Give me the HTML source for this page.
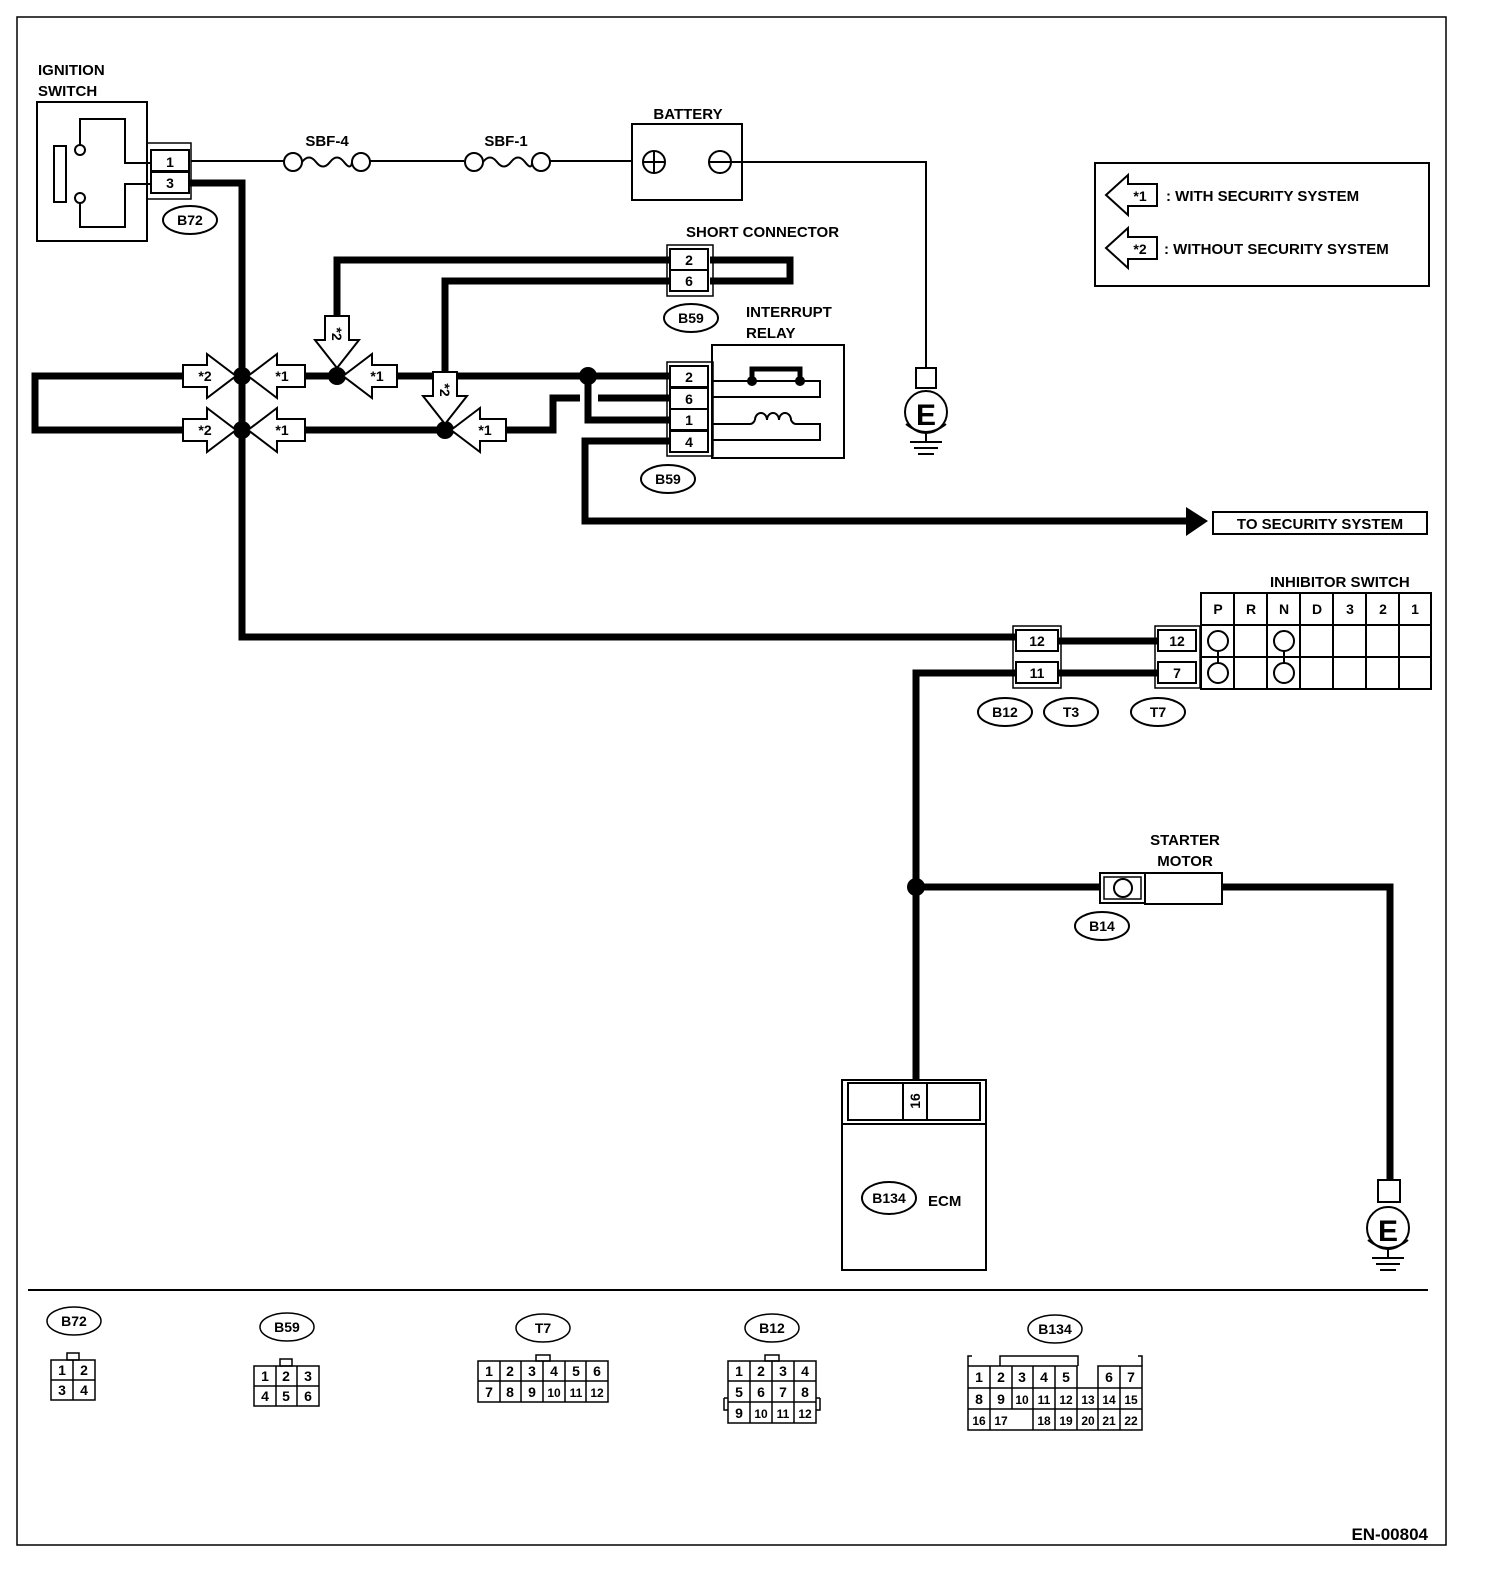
<!DOCTYPE html>
<html><head><meta charset="utf-8"><style>
html,body{margin:0;padding:0;background:#fff;overflow:hidden;width:1504px;height:1586px}
svg{display:block}
text{font-family:"Liberation Sans",Arial,sans-serif;font-weight:bold;fill:#000}
</style></head><body>
<svg width="1504" height="1586" viewBox="0 0 1504 1586" xmlns="http://www.w3.org/2000/svg">
<rect x="17" y="17" width="1429" height="1528" fill="none" stroke="#000" stroke-width="1.5"/>

<!-- Ignition switch -->
<text x="38" y="75" font-size="15">IGNITION</text>
<text x="38" y="96" font-size="15">SWITCH</text>
<rect x="37" y="102" width="110" height="139" fill="none" stroke="#000" stroke-width="2"/>
<rect x="54" y="146" width="12" height="56" fill="none" stroke="#000" stroke-width="2"/>
<path d="M80,150 V119 H125 V163 H150 M150,184 H125 V227 H80 V203" fill="none" stroke="#000" stroke-width="2"/>
<circle cx="80" cy="150" r="5" fill="#fff" stroke="#000" stroke-width="2"/>
<circle cx="80" cy="198" r="5" fill="#fff" stroke="#000" stroke-width="2"/>
<rect x="147" y="143" width="44" height="56" fill="none" stroke="#000" stroke-width="1.5"/>
<rect x="151" y="150" width="38" height="21" fill="#fff" stroke="#000" stroke-width="2"/>
<rect x="151" y="172" width="38" height="21" fill="#fff" stroke="#000" stroke-width="2"/>
<text x="170" y="167" font-size="14" text-anchor="middle">1</text>
<text x="170" y="188" font-size="14" text-anchor="middle">3</text>
<ellipse cx="190" cy="220" rx="27" ry="14" fill="none" stroke="#000" stroke-width="2"/>
<text x="190" y="225" font-size="14" text-anchor="middle">B72</text>

<!-- Fuses and battery line -->
<path d="M191,161 H284 M370,161 H464 M550,161 H632" stroke="#000" stroke-width="2" fill="none"/>
<circle cx="293" cy="162" r="9" fill="#fff" stroke="#000" stroke-width="2"/>
<circle cx="361" cy="162" r="9" fill="#fff" stroke="#000" stroke-width="2"/>
<path d="M302,162 q7,-9 14,0 t14,0 t14,0 t8,0" fill="none" stroke="#000" stroke-width="2"/>
<text x="327" y="146" font-size="15" text-anchor="middle">SBF-4</text>
<circle cx="474" cy="162" r="9" fill="#fff" stroke="#000" stroke-width="2"/>
<circle cx="541" cy="162" r="9" fill="#fff" stroke="#000" stroke-width="2"/>
<path d="M483,162 q7,-9 14,0 t14,0 t14,0 t7,0" fill="none" stroke="#000" stroke-width="2"/>
<text x="506" y="146" font-size="15" text-anchor="middle">SBF-1</text>
<text x="688" y="119" font-size="15" text-anchor="middle">BATTERY</text>
<rect x="632" y="124" width="110" height="76" fill="none" stroke="#000" stroke-width="2"/>
<circle cx="654" cy="162" r="11" fill="none" stroke="#000" stroke-width="2"/>
<path d="M643,162 H665 M654,151 V173" stroke="#000" stroke-width="2"/>
<circle cx="720" cy="162" r="11" fill="none" stroke="#000" stroke-width="2"/>
<path d="M709,162 H742" stroke="#000" stroke-width="2"/>
<path d="M742,162 H926 V368" stroke="#000" stroke-width="2" fill="none"/>
<rect x="916" y="368" width="20" height="20" fill="none" stroke="#000" stroke-width="2"/>
<circle cx="926" cy="412" r="21" fill="none" stroke="#000" stroke-width="2"/>
<text x="926" y="425" font-size="30" text-anchor="middle">E</text>
<path d="M906,424 q20,16 40,0" fill="none" stroke="#000" stroke-width="2"/>
<path d="M926,433 V442 M910,442 H942 M914,448 H938 M918,454 H934" stroke="#000" stroke-width="2"/>

<!-- Legend -->
<rect x="1095" y="163" width="334" height="123" fill="none" stroke="#000" stroke-width="2"/>
<polygon points="1106,195 1128,175 1128,184 1157,184 1157,206 1128,206 1128,215" fill="#fff" stroke="#000" stroke-width="2"/>
<text x="1140" y="201" font-size="14" text-anchor="middle">*1</text>
<text x="1166" y="201" font-size="15">: WITH SECURITY SYSTEM</text>
<polygon points="1106,248 1128,228 1128,237 1157,237 1157,259 1128,259 1128,268" fill="#fff" stroke="#000" stroke-width="2"/>
<text x="1140" y="254" font-size="14" text-anchor="middle">*2</text>
<text x="1164" y="254" font-size="15">: WITHOUT SECURITY SYSTEM</text>

<!-- Thick wires -->
<g stroke="#000" stroke-width="7" fill="none">
<path d="M190,183 H242 V637 H1016"/>
<path d="M183,376 H35 V430 H183"/>
<path d="M305,376 H350 M397,376 H670"/>
<path d="M305,430 H458 M506,430 H553 V398 H580"/>
<path d="M337,316 V260 H670"/>
<path d="M445,372 V281 H670"/>
<path d="M710,260 H790 V281 H710"/>
<path d="M588,376 V420 H670"/>
<path d="M598,398 H670"/>
<path d="M670,441 H585 V521 H1190"/>
<path d="M1058,641 H1158"/>
<path d="M1158,673 H1058 M1016,673 H916 V1080"/>
<path d="M916,887 H1100"/>
<path d="M1222,887 H1390 V1180"/>
</g>
<polygon points="1186,507 1208,521 1186,536" fill="#000"/>
<circle cx="242" cy="376" r="9" fill="#000"/>
<circle cx="242" cy="430" r="9" fill="#000"/>
<circle cx="337" cy="376" r="9" fill="#000"/>
<circle cx="445" cy="430" r="9" fill="#000"/>
<circle cx="588" cy="376" r="9" fill="#000"/>
<circle cx="916" cy="887" r="9" fill="#000"/>

<!-- arrows -->
<g fill="#fff" stroke="#000" stroke-width="2">
<polygon points="183,365 207,365 207,354 236,376 207,398 207,387 183,387"/>
<polygon points="183,419 207,419 207,408 236,430 207,452 207,441 183,441"/>
<polygon points="248,376 277,354 277,365 305,365 305,387 277,387 277,398"/>
<polygon points="248,430 277,408 277,419 305,419 305,441 277,441 277,452"/>
<polygon points="343,376 372,354 372,365 397,365 397,387 372,387 372,398"/>
<polygon points="451,430 480,408 480,419 506,419 506,441 480,441 480,452"/>
<polygon points="325,316 349,316 349,340 359,340 337,368 315,340 325,340"/>
<polygon points="433,372 457,372 457,396 467,396 445,424 423,396 433,396"/>
</g>
<g font-size="14" text-anchor="middle">
<text x="205" y="381">*2</text><text x="205" y="435">*2</text>
<text x="282" y="381">*1</text><text x="282" y="435">*1</text>
<text x="377" y="381">*1</text><text x="485" y="435">*1</text>
<text transform="translate(332,334) rotate(90)" text-anchor="middle">*2</text>
<text transform="translate(440,390) rotate(90)" text-anchor="middle">*2</text>
</g>

<!-- Short connector -->
<text x="686" y="237" font-size="15">SHORT CONNECTOR</text>
<rect x="667" y="245" width="46" height="51" fill="none" stroke="#000" stroke-width="1.5"/>
<rect x="670" y="249" width="38" height="21" fill="#fff" stroke="#000" stroke-width="2"/>
<rect x="670" y="270" width="38" height="21" fill="#fff" stroke="#000" stroke-width="2"/>
<text x="689" y="265" font-size="14" text-anchor="middle">2</text>
<text x="689" y="286" font-size="14" text-anchor="middle">6</text>
<ellipse cx="691" cy="318" rx="27" ry="14" fill="none" stroke="#000" stroke-width="2"/>
<text x="691" y="323" font-size="14" text-anchor="middle">B59</text>

<!-- Interrupt relay -->
<text x="746" y="317" font-size="15">INTERRUPT</text>
<text x="746" y="338" font-size="15">RELAY</text>
<rect x="712" y="345" width="132" height="113" fill="none" stroke="#000" stroke-width="2"/>
<rect x="667" y="362" width="46" height="94" fill="none" stroke="#000" stroke-width="1.5"/>
<rect x="670" y="366" width="38" height="21" fill="#fff" stroke="#000" stroke-width="2"/>
<rect x="670" y="388" width="38" height="21" fill="#fff" stroke="#000" stroke-width="2"/>
<rect x="670" y="409" width="38" height="21" fill="#fff" stroke="#000" stroke-width="2"/>
<rect x="670" y="431" width="38" height="21" fill="#fff" stroke="#000" stroke-width="2"/>
<text x="689" y="382" font-size="14" text-anchor="middle">2</text>
<text x="689" y="404" font-size="14" text-anchor="middle">6</text>
<text x="689" y="425" font-size="14" text-anchor="middle">1</text>
<text x="689" y="447" font-size="14" text-anchor="middle">4</text>
<path d="M712,381 H820 V397 H712" fill="none" stroke="#000" stroke-width="2"/>
<path d="M752,378 V369 H800 V378" fill="none" stroke="#000" stroke-width="5"/>
<circle cx="752" cy="381" r="5" fill="#000"/><circle cx="800" cy="381" r="5" fill="#000"/>
<path d="M712,424 H750 q3,0 5,-4 M755,420 a6,7 0 1 1 12,0 a6,7 0 1 1 12,0 a6,7 0 1 1 12,0 q2,4 5,4 H820 V440 H712" fill="none" stroke="#000" stroke-width="2"/>
<ellipse cx="668" cy="479" rx="27" ry="14" fill="none" stroke="#000" stroke-width="2"/>
<text x="668" y="484" font-size="14" text-anchor="middle">B59</text>

<rect x="1213" y="512" width="214" height="22" fill="none" stroke="#000" stroke-width="2"/>
<text x="1320" y="529" font-size="15" text-anchor="middle">TO SECURITY SYSTEM</text>

<!-- Inhibitor -->
<text x="1270" y="587" font-size="15">INHIBITOR SWITCH</text>
<g stroke="#000" stroke-width="2" fill="none">
<rect x="1201" y="593" width="230" height="96"/>
<path d="M1201,625 H1431 M1201,657 H1431"/>
<path d="M1234,593 V689 M1267,593 V689 M1300,593 V689 M1333,593 V689 M1366,593 V689 M1399,593 V689"/>
<circle cx="1218" cy="641" r="10"/><circle cx="1218" cy="673" r="10"/>
<circle cx="1284" cy="641" r="10"/><circle cx="1284" cy="673" r="10"/>
<path d="M1218,651 V663 M1284,651 V663"/>
</g>
<g font-size="14" text-anchor="middle">
<text x="1218" y="614">P</text><text x="1251" y="614">R</text><text x="1284" y="614">N</text><text x="1317" y="614">D</text><text x="1350" y="614">3</text><text x="1383" y="614">2</text><text x="1415" y="614">1</text>
</g>
<rect x="1013" y="626" width="48" height="62" fill="none" stroke="#000" stroke-width="1.5"/>
<rect x="1016" y="630" width="42" height="21" fill="#fff" stroke="#000" stroke-width="2"/>
<rect x="1016" y="662" width="42" height="21" fill="#fff" stroke="#000" stroke-width="2"/>
<text x="1037" y="646" font-size="14" text-anchor="middle">12</text>
<text x="1037" y="678" font-size="14" text-anchor="middle">11</text>
<rect x="1155" y="626" width="45" height="62" fill="none" stroke="#000" stroke-width="1.5"/>
<rect x="1158" y="630" width="38" height="21" fill="#fff" stroke="#000" stroke-width="2"/>
<rect x="1158" y="662" width="38" height="21" fill="#fff" stroke="#000" stroke-width="2"/>
<text x="1177" y="646" font-size="14" text-anchor="middle">12</text>
<text x="1177" y="678" font-size="14" text-anchor="middle">7</text>
<ellipse cx="1005" cy="712" rx="27" ry="14" fill="none" stroke="#000" stroke-width="2"/>
<text x="1005" y="717" font-size="14" text-anchor="middle">B12</text>
<ellipse cx="1071" cy="712" rx="27" ry="14" fill="none" stroke="#000" stroke-width="2"/>
<text x="1071" y="717" font-size="14" text-anchor="middle">T3</text>
<ellipse cx="1158" cy="712" rx="27" ry="14" fill="none" stroke="#000" stroke-width="2"/>
<text x="1158" y="717" font-size="14" text-anchor="middle">T7</text>

<!-- Starter -->
<text x="1185" y="845" font-size="15" text-anchor="middle">STARTER</text>
<text x="1185" y="866" font-size="15" text-anchor="middle">MOTOR</text>
<rect x="1100" y="873" width="45" height="30" fill="#fff" stroke="#000" stroke-width="2"/>
<rect x="1104" y="877" width="37" height="22" fill="none" stroke="#000" stroke-width="1.5"/>
<circle cx="1123" cy="888" r="9" fill="none" stroke="#000" stroke-width="2"/>
<rect x="1145" y="873" width="77" height="31" fill="#fff" stroke="#000" stroke-width="2"/>
<ellipse cx="1102" cy="926" rx="27" ry="14" fill="none" stroke="#000" stroke-width="2"/>
<text x="1102" y="931" font-size="14" text-anchor="middle">B14</text>
<rect x="1378" y="1180" width="22" height="22" fill="none" stroke="#000" stroke-width="2"/>
<circle cx="1388" cy="1228" r="21" fill="none" stroke="#000" stroke-width="2"/>
<text x="1388" y="1241" font-size="30" text-anchor="middle">E</text>
<path d="M1368,1240 q20,16 40,0" fill="none" stroke="#000" stroke-width="2"/>
<path d="M1388,1249 V1258 M1372,1258 H1404 M1376,1264 H1400 M1380,1270 H1396" stroke="#000" stroke-width="2"/>

<!-- ECM -->
<rect x="842" y="1080" width="144" height="190" fill="none" stroke="#000" stroke-width="2"/>
<rect x="848" y="1083" width="132" height="37" fill="none" stroke="#000" stroke-width="2"/>
<path d="M842,1124 H986" stroke="#000" stroke-width="2"/>
<rect x="903" y="1083" width="24" height="37" fill="none" stroke="#000" stroke-width="2"/>
<text transform="translate(920,1101) rotate(-90)" font-size="14" text-anchor="middle">16</text>
<ellipse cx="889" cy="1198" rx="27" ry="16" fill="none" stroke="#000" stroke-width="2"/>
<text x="889" y="1203" font-size="14" text-anchor="middle">B134</text>
<text x="928" y="1206" font-size="15">ECM</text>

<path d="M28,1290 H1428" stroke="#000" stroke-width="2"/>

<!-- Bottom connectors -->
<g stroke="#000" stroke-width="1.5" fill="none">
<ellipse cx="74" cy="1321" rx="27" ry="14"/>
<rect x="67" y="1353" width="12" height="7"/>
<rect x="51" y="1360" width="44" height="40"/>
<path d="M51,1380 H95 M73,1360 V1400"/>
<ellipse cx="287" cy="1327" rx="27" ry="14"/>
<rect x="280" y="1359" width="12" height="7"/>
<rect x="254" y="1366" width="65" height="40"/>
<path d="M254,1386 H319 M276,1366 V1406 M297,1366 V1406"/>
<ellipse cx="543" cy="1328" rx="27" ry="14"/>
<rect x="536" y="1355" width="14" height="6"/>
<rect x="478" y="1361" width="130" height="41"/>
<path d="M478,1381 H608 M500,1361 V1402 M521,1361 V1402 M543,1361 V1402 M565,1361 V1402 M586,1361 V1402"/>
<ellipse cx="772" cy="1328" rx="27" ry="14"/>
<rect x="765" y="1355" width="14" height="6"/>
<rect x="728" y="1361" width="88" height="62"/>
<path d="M728,1381 H816 M728,1402 H816 M750,1361 V1423 M772,1361 V1423 M794,1361 V1423 M724,1398 H728 M816,1398 H820 M724,1398 V1410 H728 M820,1398 V1410 H816"/>
<ellipse cx="1055" cy="1329" rx="27" ry="14"/>
<path d="M1000,1366 V1356 H1078 V1366 M968,1366 V1356 H972 M1142,1366 V1356 H1138"/>
<path d="M968,1366 H1077 V1388 M1098,1388 V1366 H1142 V1430 H968 V1366 M968,1388 H1142 M968,1409 H1142"/>
<path d="M990,1366 V1430 M1012,1366 V1409 M1033,1366 V1409 M1055,1366 V1430 M1033,1409 V1430 M1120,1366 V1430 M1077,1388 V1430 M1098,1388 V1430"/>
</g>
<g font-size="14" text-anchor="middle">
<text x="74" y="1326">B72</text>
<text x="287" y="1332">B59</text>
<text x="543" y="1333">T7</text>
<text x="772" y="1333">B12</text>
<text x="1055" y="1334">B134</text>
</g>
<g font-size="14" text-anchor="middle">
<text x="62" y="1375" font-weight="normal">1</text><text x="84" y="1375" font-weight="normal">2</text>
<text x="62" y="1395" font-weight="normal">3</text><text x="84" y="1395" font-weight="normal">4</text>
<text x="265" y="1381" font-weight="normal">1</text><text x="286" y="1381" font-weight="normal">2</text><text x="308" y="1381" font-weight="normal">3</text>
<text x="265" y="1401" font-weight="normal">4</text><text x="286" y="1401" font-weight="normal">5</text><text x="308" y="1401" font-weight="normal">6</text>
<text x="489" y="1376" font-weight="normal">1</text><text x="510" y="1376" font-weight="normal">2</text><text x="532" y="1376" font-weight="normal">3</text><text x="554" y="1376" font-weight="normal">4</text><text x="576" y="1376" font-weight="normal">5</text><text x="597" y="1376" font-weight="normal">6</text>
<text x="489" y="1397" font-weight="normal">7</text><text x="510" y="1397" font-weight="normal">8</text><text x="532" y="1397" font-weight="normal">9</text><text x="554" y="1397" font-weight="normal" font-size="12">10</text><text x="576" y="1397" font-weight="normal" font-size="12">11</text><text x="597" y="1397" font-weight="normal" font-size="12">12</text>
<text x="739" y="1376" font-weight="normal">1</text><text x="761" y="1376" font-weight="normal">2</text><text x="783" y="1376" font-weight="normal">3</text><text x="805" y="1376" font-weight="normal">4</text>
<text x="739" y="1397" font-weight="normal">5</text><text x="761" y="1397" font-weight="normal">6</text><text x="783" y="1397" font-weight="normal">7</text><text x="805" y="1397" font-weight="normal">8</text>
<text x="739" y="1418" font-weight="normal">9</text><text x="761" y="1418" font-weight="normal" font-size="12">10</text><text x="783" y="1418" font-weight="normal" font-size="12">11</text><text x="805" y="1418" font-weight="normal" font-size="12">12</text>
<text x="979" y="1382" font-weight="normal">1</text><text x="1001" y="1382" font-weight="normal">2</text><text x="1022" y="1382" font-weight="normal">3</text><text x="1044" y="1382" font-weight="normal">4</text><text x="1066" y="1382" font-weight="normal">5</text><text x="1109" y="1382" font-weight="normal">6</text><text x="1131" y="1382" font-weight="normal">7</text>
<text x="979" y="1404" font-weight="normal">8</text><text x="1001" y="1404" font-weight="normal">9</text><text x="1022" y="1404" font-weight="normal" font-size="12">10</text><text x="1044" y="1404" font-weight="normal" font-size="12">11</text><text x="1066" y="1404" font-weight="normal" font-size="12">12</text><text x="1088" y="1404" font-weight="normal" font-size="12">13</text><text x="1109" y="1404" font-weight="normal" font-size="12">14</text><text x="1131" y="1404" font-weight="normal" font-size="12">15</text>
<text x="979" y="1425" font-weight="normal" font-size="12">16</text><text x="1001" y="1425" font-weight="normal" font-size="12">17</text><text x="1044" y="1425" font-weight="normal" font-size="12">18</text><text x="1066" y="1425" font-weight="normal" font-size="12">19</text><text x="1088" y="1425" font-weight="normal" font-size="12">20</text><text x="1109" y="1425" font-weight="normal" font-size="12">21</text><text x="1131" y="1425" font-weight="normal" font-size="12">22</text>
</g>

<text x="1428" y="1540" font-size="17" text-anchor="end" font-weight="normal">EN-00804</text>
</svg>
</body></html>
